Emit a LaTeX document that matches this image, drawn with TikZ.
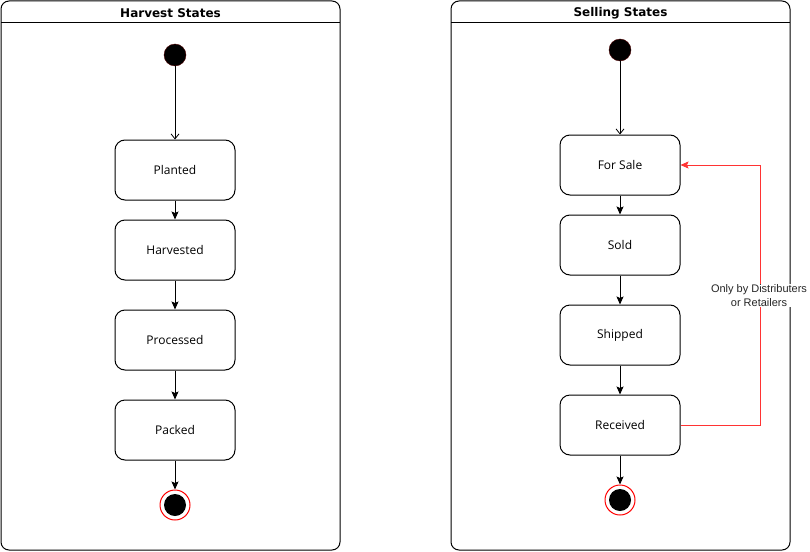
\documentclass[tikz,border=0pt]{standalone}
\usepackage{fontspec}
\setmainfont{Open Sans}
\newfontfamily\titlefont{DejaVu Sans}
\newfontfamily\notefont{Liberation Sans}
\usetikzlibrary{arrows.meta}

\tikzset{
	lane/.style={draw, line width=1pt, rounded corners=8pt, minimum width=339pt, minimum height=549pt, inner sep=0pt},
	lanetitle/.style={font=\titlefont\bfseries\fontsize{12}{14}\selectfont},
	state/.style={draw, line width=1pt, rounded corners=10pt, minimum width=120pt, minimum height=60pt, font=\fontsize{12}{14}\selectfont},
	start/.style={circle, fill=black, draw=black!70!red, minimum size=22pt, inner sep=0pt},
	stop/.style={circle, draw=red, line width=1pt, fill=white, minimum size=30pt, inner sep=0pt,
		path picture={\fill[black] (path picture bounding box.center) circle (11pt);}},
	flow/.style={-{Stealth[length=8pt,width=7pt,inset=1.5pt]}, line width=1pt},
	init/.style={-{Straight Barb[length=5pt,width=8pt]}, line width=0.8pt}
}

\begin{document}
\begin{tikzpicture}[x=1pt,y=-1pt]
	\useasboundingbox (0,0) rectangle (810,551);

	% swimlanes
	\node[lane] (Harvest) at (170.5,275.5) {};
	\node[lane] (Selling) at (620.5,275.5) {};
	\draw[line width=1pt] (1,23) -- (340,23);
	\draw[line width=1pt] (451,23) -- (790,23);
	\node[lanetitle] (HarvestTitle) at (170.5,13) {Harvest States};
	\node[lanetitle] (SellingTitle) at (620.5,13) {Selling States};

	% harvest states
	\node[start] (HStart) at (175,55) {};
	\node[state] (Planted) at (175,170) {Planted};
	\node[state] (Harvested) at (175,250) {Harvested};
	\node[state] (Processed) at (175,340) {Processed};
	\node[state] (Packed) at (175,430) {Packed};
	\node[stop] (HStop) at (175,505) {};

	\draw[init] (HStart) to (Planted);
	\draw[flow] (Planted) to (Harvested);
	\draw[flow] (Harvested) to (Processed);
	\draw[flow] (Processed) to (Packed);
	\draw[flow] (Packed) to (HStop);

	% selling states
	\node[start] (SStart) at (620,50) {};
	\node[state] (ForSale) at (620,165) {For Sale};
	\node[state] (Sold) at (620,245) {Sold};
	\node[state] (Shipped) at (620,335) {Shipped};
	\node[state] (Received) at (620,425) {Received};
	\node[stop] (SStop) at (620,500) {};

	\draw[init] (SStart) to (ForSale);
	\draw[flow] (ForSale) to (Sold);
	\draw[flow] (Sold) to (Shipped);
	\draw[flow] (Shipped) to (Received);
	\draw[flow] (Received) to (SStop);

	% resale loop
	\coordinate (Bend) at (760,425);
	\draw[red!80, line width=0.8pt, -{Stealth[length=8pt,width=7pt,inset=1.5pt]}] (Received.east) -- (Bend) |- (ForSale.east);
	\node[fill=white, inner sep=1pt, align=center, font=\notefont\fontsize{11}{13.5}\selectfont, text=black!85] (Only) at (759,295.5) {Only by Distributers\\or Retailers};
\end{tikzpicture}
\end{document}
